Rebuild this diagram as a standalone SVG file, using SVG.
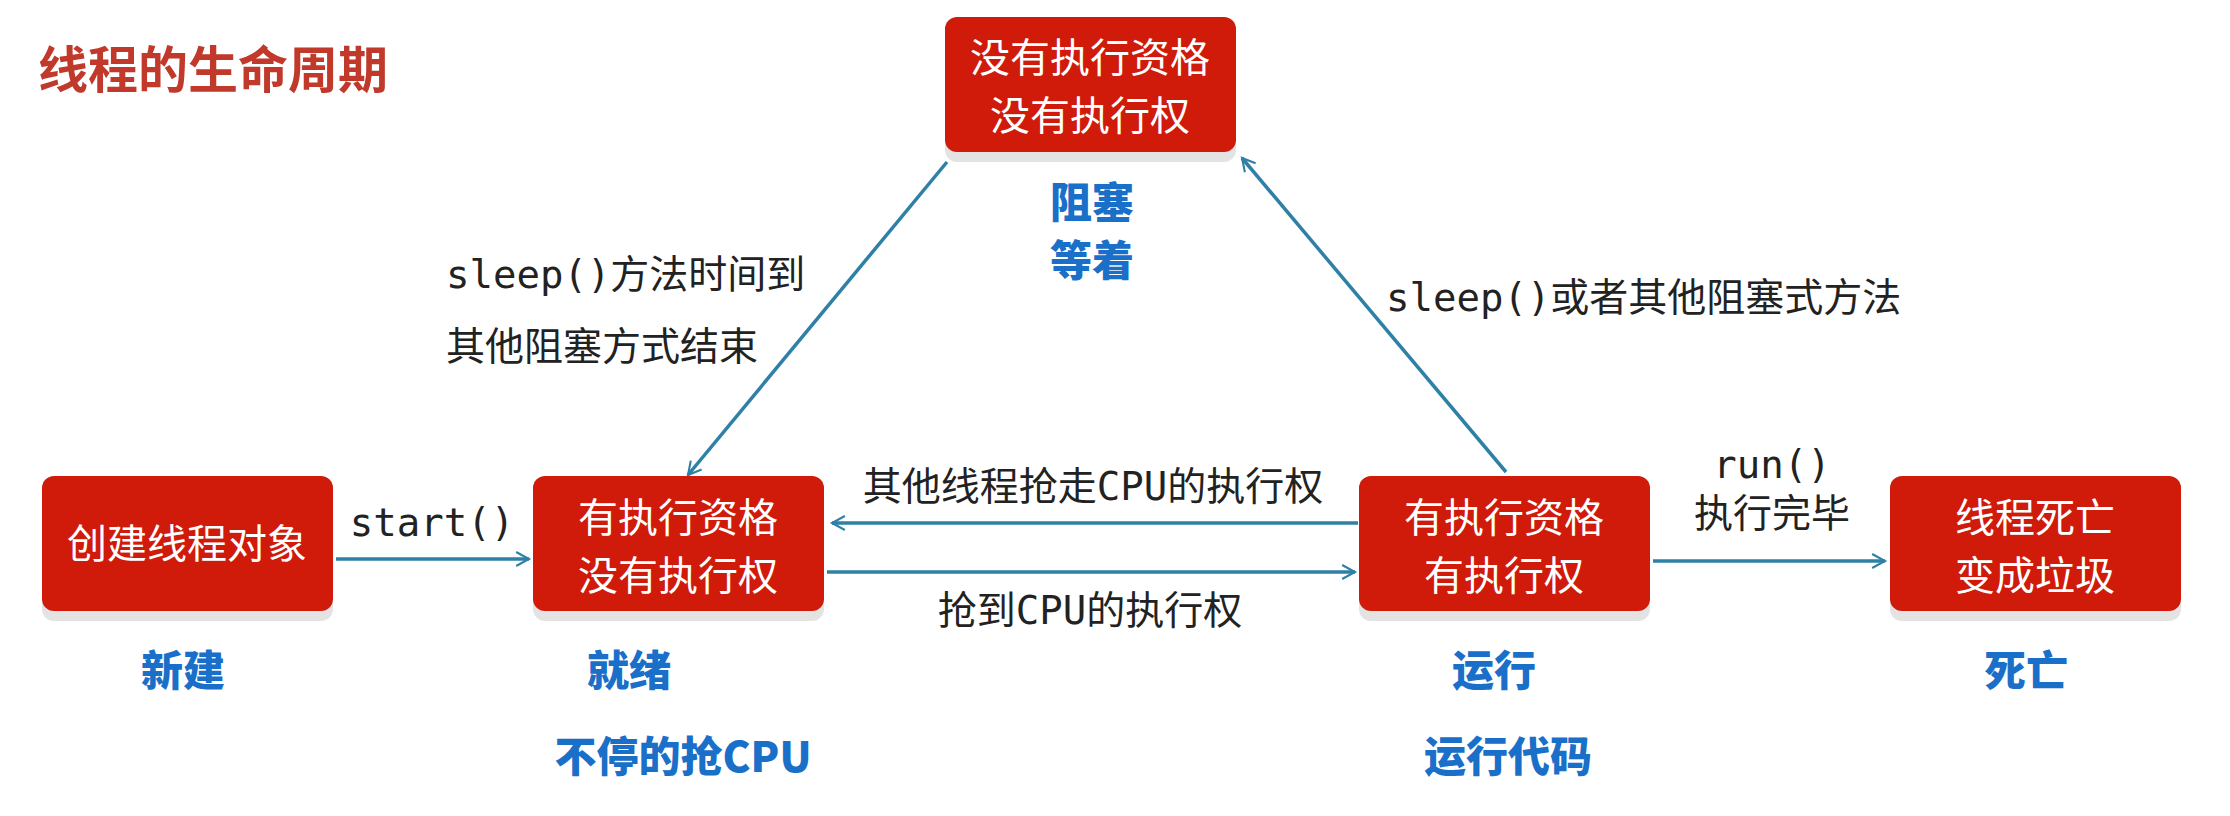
<svg xmlns="http://www.w3.org/2000/svg" width="2230" height="816" viewBox="0 0 2230 816">
<style>
.box{fill:#d01a0a}
.sh{fill:#e3e3e3}
.nt{font-family:"Noto Sans CJK SC",sans-serif;font-size:40px;fill:#fff;text-anchor:middle}
.st{font-family:"Noto Sans CJK SC",sans-serif;font-size:42px;font-weight:900;fill:#1a6fc8;text-anchor:middle}
.lb{font-family:"DejaVu Sans Mono","Noto Sans CJK SC",monospace;font-size:39px;fill:#222}
.e{stroke:#2f80a6;stroke-width:3.5;fill:none;marker-end:url(#a)}
</style>
<defs>
<marker id="a" viewBox="0 0 12 12" refX="11" refY="6" markerWidth="7" markerHeight="7" orient="auto" markerUnits="userSpaceOnUse" style="overflow:visible">
<path d="M0,0 L11,6 L0,12" fill="none" stroke="#2f80a6" stroke-width="1.8" transform="scale(2)" transform-origin="11 6"/>
</marker>
</defs>
<rect width="2230" height="816" fill="#fff"/>
<text x="38" y="88" font-family="Noto Sans CJK SC,sans-serif" font-size="50" font-weight="bold" fill="#c0392b">线程的生命周期</text>
<g id="connectors">
<line class="e" x1="336" y1="559" x2="529" y2="559"/>
<line class="e" x1="1358" y1="523" x2="832" y2="523"/>
<line class="e" x1="827" y1="572" x2="1355" y2="572"/>
<line class="e" x1="947" y1="162" x2="688" y2="475"/>
<line class="e" x1="1506" y1="472" x2="1242" y2="158"/>
<line class="e" x1="1653" y1="561" x2="1885" y2="561"/>
<text class="lb" x="432" y="536" text-anchor="middle">start()</text>
<text class="lb" x="1093" y="500" text-anchor="middle">其他线程抢走CPU的执行权</text>
<text class="lb" x="1090" y="624" text-anchor="middle">抢到CPU的执行权</text>
<text class="lb" x="446" y="288">sleep()方法时间到</text>
<text class="lb" x="446" y="360">其他阻塞方式结束</text>
<text class="lb" x="1386" y="311">sleep()或者其他阻塞式方法</text>
<text class="lb" x="1772" y="478" text-anchor="middle">run()</text>
<text class="lb" x="1772" y="527" text-anchor="middle">执行完毕</text>
</g>
<g id="blocked">
<rect class="sh" x="945" y="25" width="291" height="137" rx="12"/>
<rect class="box" x="945" y="17" width="291" height="135" rx="12"/>
<text class="nt" x="1090" y="72">没有执行资格</text>
<text class="nt" x="1090" y="130">没有执行权</text>
<text class="st" font-size="37"><tspan x="1092" y="218">阻塞</tspan><tspan x="1092" y="276">等着</tspan></text>
</g>
<g id="new">
<rect class="sh" x="42" y="484" width="291" height="137" rx="12"/>
<rect class="box" x="42" y="476" width="291" height="135" rx="12"/>
<text class="nt" x="187" y="558">创建线程对象</text>
<text class="st" x="183" y="686">新建</text>
</g>
<g id="ready">
<rect class="sh" x="533" y="484" width="291" height="137" rx="12"/>
<rect class="box" x="533" y="476" width="291" height="135" rx="12"/>
<text class="nt" x="678" y="532">有执行资格</text>
<text class="nt" x="678" y="590">没有执行权</text>
<text class="st" x="629" y="686">就绪</text>
<text class="st" x="683" y="772">不停的抢CPU</text>
</g>
<g id="running">
<rect class="sh" x="1359" y="484" width="291" height="137" rx="12"/>
<rect class="box" x="1359" y="476" width="291" height="135" rx="12"/>
<text class="nt" x="1504" y="532">有执行资格</text>
<text class="nt" x="1504" y="590">有执行权</text>
<text class="st" x="1494" y="686">运行</text>
<text class="st" x="1508" y="772">运行代码</text>
</g>
<g id="dead">
<rect class="sh" x="1890" y="484" width="291" height="137" rx="12"/>
<rect class="box" x="1890" y="476" width="291" height="135" rx="12"/>
<text class="nt" x="2035" y="532">线程死亡</text>
<text class="nt" x="2035" y="590">变成垃圾</text>
<text class="st" x="2026" y="686">死亡</text>
</g>
</svg>
